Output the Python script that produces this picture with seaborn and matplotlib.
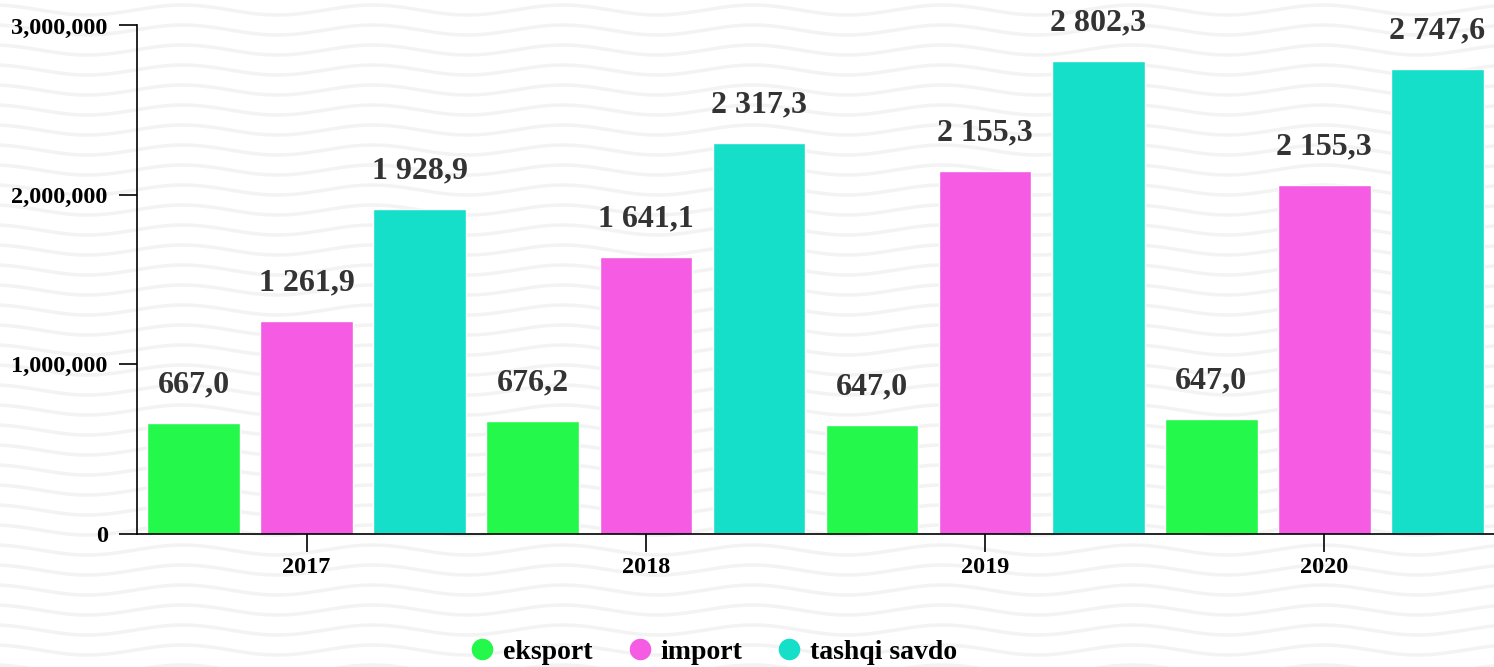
import numpy as np
import pandas as pd
import matplotlib
matplotlib.use("Agg")
import matplotlib.pyplot as plt
from matplotlib.lines import Line2D
from matplotlib.ticker import FuncFormatter
import seaborn as sns

# ------------ DATA ------------
years = ["2017", "2018", "2019", "2020"]
series = ["eksport", "import", "tashqi savdo"]

eksport = [651000, 664000, 641000, 676000]
import_ = [1255000, 1633000, 2141000, 2058000]
tashqi = [1915000, 2307000, 2791000, 2744000]

eksport_labels = ["667,0", "676,2", "647,0", "647,0"]
import_labels = ["1 261,9", "1 641,1", "2 155,3", "2 155,3"]
tashqi_labels = ["1 928,9", "2 317,3", "2 802,3", "2 747,6"]

colors = ["#23F84B", "#F55BE3", "#15DFC9"]

df = pd.DataFrame({
    "year": years * 3,
    "series": [s for s in series for _ in years],
    "value": eksport + import_ + tashqi,
    "label": eksport_labels + import_labels + tashqi_labels,
})

# ------------ STYLE ------------
sns.set_style("white")
plt.rcParams["font.family"] = ["Liberation Serif", "DejaVu Serif"]
plt.rcParams["font.weight"] = "bold"
plt.rcParams["text.color"] = "black"

fig = plt.figure(figsize=(14.94, 6.67), dpi=100)

# wavy background texture (decoration only)
bg = fig.add_axes([0, 0, 1, 1], zorder=0)
bg.set_xlim(0, 1494)
bg.set_ylim(667, 0)
bg.axis("off")
xs = np.linspace(0, 1494, 600)
for y0 in np.arange(-10, 690, 20):
    bg.plot(xs, y0 + 5 * np.sin(2 * np.pi * (xs - 40) / 190), color="#f3f3f3", lw=2.5,
            solid_capstyle="round")

ax = fig.add_axes([137 / 1494, 1 - 533.5 / 667, 1 - 137 / 1494, (533.5 - 25.5) / 667], zorder=1)
ax.set_facecolor("none")

sns.barplot(data=df, x="year", y="value", hue="series", hue_order=series,
            palette=colors, width=1.0, gap=0.18, saturation=1, legend=False, ax=ax)

# value labels above bars
for container, s in zip(ax.containers, series):
    labs = df[df["series"] == s]["label"].tolist()
    for bar, lab in zip(container, labs):
        ax.annotate(lab, (bar.get_x() + bar.get_width() / 2, bar.get_height()),
                    xytext=(0, 17), textcoords="offset points", ha="center", va="bottom",
                    fontsize=23, fontweight="bold", color="#333333", annotation_clip=False)

ax.set_ylim(0, 3000000)
ax.set_yticks([0, 1000000, 2000000, 3000000])
ax.yaxis.set_major_formatter(FuncFormatter(lambda v, p: f"{int(v):,}"))
ax.set_xlabel("")
ax.set_ylabel("")

sns.despine(ax=ax)
for sp in ["left", "bottom"]:
    ax.spines[sp].set_linewidth(1.2)
    ax.spines[sp].set_color("black")

ax.tick_params(axis="both", length=13, width=1.2, color="black", labelsize=17.5, labelcolor="black")
ax.tick_params(axis="x", pad=4)
ax.tick_params(axis="y", pad=8)
ax.tick_params(left=True, bottom=True)
for t in ax.get_xticklabels() + ax.get_yticklabels():
    t.set_fontweight("bold")

handles = [Line2D([], [], marker="o", linestyle="", markersize=14.5, color=c) for c in colors]
fig.legend(handles, series, loc="center", bbox_to_anchor=(0.478, 0.022), ncol=3, frameon=False,
           prop={"size": 20, "weight": "bold"}, handlelength=0.8, handletextpad=0.35,
           columnspacing=1.3, labelcolor="black")

fig.savefig("out.png", dpi=100)
